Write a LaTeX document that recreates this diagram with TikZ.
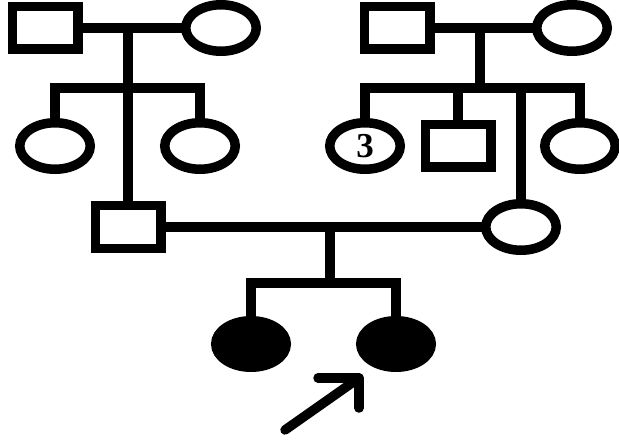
\documentclass[tikz,border=0pt]{standalone}
\usepackage{fontspec}
\setmainfont{Liberation Serif}
\usetikzlibrary{shapes.geometric}
\begin{document}
\begin{tikzpicture}[x=1pt,y=-1pt,
  line width=9.5pt,
  male/.style={draw,rectangle,minimum width=65.5pt,minimum height=42.5pt,inner sep=0pt,outer sep=0pt},
  female/.style={draw,ellipse,minimum width=70.5pt,minimum height=46.5pt,inner sep=0pt,outer sep=0pt},
  affected/.style={female,fill=black},
  link/.style={draw,line cap=butt},
  pointer/.style={draw,line cap=round,line join=round}]
\useasboundingbox (0,0) rectangle (619,441);

% grandparents, father's side
\node[male]   (gf1) at (45,28)  {};
\node[female] (gm1) at (221,28) {};
% grandparents, mother's side
\node[male]   (gf2) at (397,28) {};
\node[female] (gm2) at (572,28) {};

% children of the first couple
\node[female] (a1) at (55,146)  {};
\node[female] (a2) at (200,146) {};
\node[male]   (fa) at (128,227) {};

% children of the second couple
\node[female] (b1) at (365,146) {\fontsize{35}{35}\selectfont\bfseries 3};
\node[male]   (b2) at (458,146) {};
\node[female] (b3) at (580,146) {};
\node[female] (mo) at (521,227) {};

% affected daughters
\node[affected] (d1) at (251,344) {};
\node[affected] (d2) at (396,344) {};

% helper points on the lines
\coordinate (m1) at (128,28);
\coordinate (s1l) at (55,88);
\coordinate (s1r) at (200,88);
\coordinate (m2) at (480,28);
\coordinate (s2) at (480,88);
\coordinate (s2l) at (365,88);
\coordinate (s2r) at (580,88);
\coordinate (s2b) at (458,88);
\coordinate (s2m) at (521,88);
\coordinate (m3) at (330,227);
\coordinate (s3) at (330,283);
\coordinate (s3l) at (251,283);
\coordinate (s3r) at (396,283);

% first family
\path[link] (gf1.east) -- (gm1.west);
\path[link] (m1) -- (fa.north);
\path[link] (a1.north) -- (s1l) -- (s1r) -- (a2.north);

% second family
\path[link] (gf2.east) -- (gm2.west);
\path[link] (m2) -- (s2);
\path[link] (b1.north) -- (s2l) -- (s2r) -- (b3.north);
\path[link] (s2b) -- (b2.north);
\path[link] (s2m) -- (mo.north);

% parents and their daughters
\path[link] (fa.east) -- (mo.west);
\path[link] (m3) -- (s3);
\path[link] (d1.north) -- (s3l) -- (s3r) -- (d2.north);

% proband arrow
\coordinate (tail) at (285,430);
\coordinate (tip) at (359,378);
\coordinate (barbA) at (318,378);
\coordinate (barbB) at (359,408);
\path[pointer] (tail) -- (tip);
\path[pointer] (barbA) -- (tip) -- (barbB);
\end{tikzpicture}
\end{document}
